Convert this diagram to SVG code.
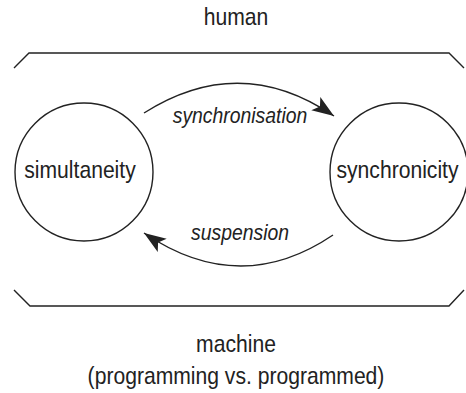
<svg xmlns="http://www.w3.org/2000/svg" width="466" height="393" viewBox="0 0 466 393">
<defs>
<style>
.t{font-family:"Liberation Sans",Arial,sans-serif;font-size:24px;fill:#222;text-anchor:middle}
.i{font-style:italic;font-size:22px}
.s{fill:none;stroke:#222;stroke-width:1.4}
</style>
<marker id="ah" markerUnits="userSpaceOnUse" markerWidth="24" markerHeight="18" refX="22" refY="8" orient="auto">
<path d="M0,0 L22,8 L0,16 L5,8 Z" fill="#222"/>
</marker>
</defs>
<rect width="466" height="393" fill="#fff"/>
<g id="frame">
<path class="s" d="M14,68 L29,53 L449,53 L464,68"/>
<path class="s" d="M14,290 L30,306 L449,306 L464,290"/>
</g>
<g id="human"><text class="t" transform="translate(236,25) scale(0.88,1)">human</text></g>
<g id="machine"><text class="t" transform="translate(236,352) scale(0.88,1)">machine</text><text class="t" transform="translate(236,384) scale(0.88,1)">(programming vs. programmed)</text></g>
<g id="simultaneity">
<circle class="s" cx="84" cy="172" r="69"/>
<text class="t" transform="translate(80,178) scale(0.88,1)">simultaneity</text>
</g>
<g id="synchronicity">
<circle class="s" cx="399" cy="172" r="69"/>
<text class="t" transform="translate(397.5,178) scale(0.88,1)">synchronicity</text>
</g>
<g id="connectors">
<path class="s" d="M144,113 Q240,52 334,116" marker-end="url(#ah)"/>
<text class="t i" transform="translate(240,123) scale(0.88,1)">synchronisation</text>
<path class="s" d="M333,235 Q240,298 144,233" marker-end="url(#ah)"/>
<text class="t i" transform="translate(240,240) scale(0.88,1)">suspension</text>
</g>
</svg>
